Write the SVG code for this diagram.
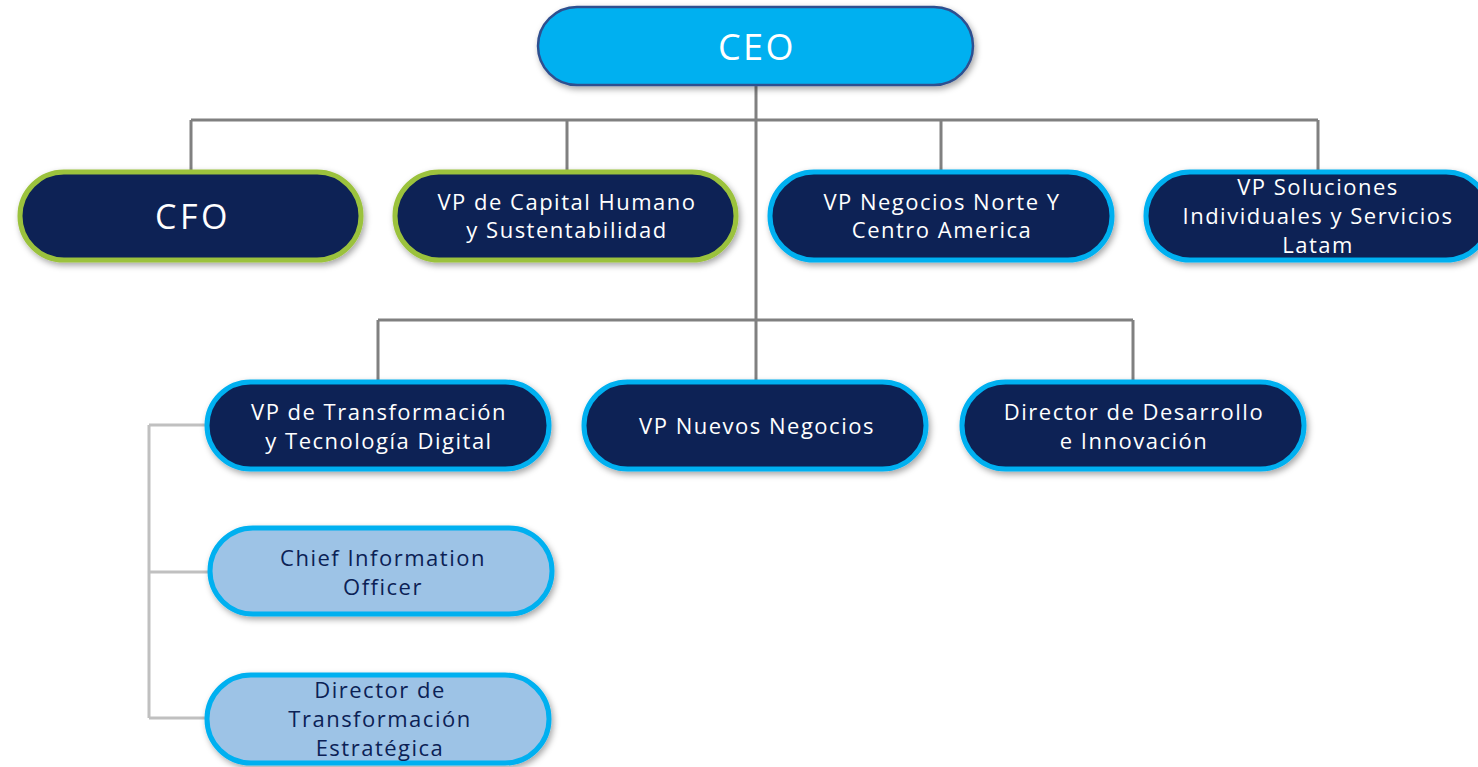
<svg xmlns="http://www.w3.org/2000/svg" width="1478" height="767" viewBox="0 0 1478 767">
<defs>
<filter id="sh" x="-10%" y="-20%" width="120%" height="150%">
<feDropShadow dx="2" dy="3" stdDeviation="3" flood-color="#000" flood-opacity="0.35"/>
</filter>
</defs>
<style>
.dark{fill:#0b2155;filter:url(#sh)}
.g{stroke:#9bc23c;stroke-width:5}
.c{stroke:#00b0f0;stroke-width:5}
.light{fill:#9dc3e6;stroke:#00b0f0;stroke-width:5;filter:url(#sh)}
.tw{fill:#fff;font-family:"Open Sans","Noto Sans",sans-serif;font-size:22px;text-anchor:middle;letter-spacing:1.5px}
.td{fill:#0b2155;font-family:"Open Sans","Noto Sans",sans-serif;font-size:22px;text-anchor:middle;letter-spacing:1.5px}
.con{stroke:#808080;stroke-width:3;fill:none}
.con2{stroke:#c0c0c0;stroke-width:3;fill:none}
</style>
<g id="connectors">
<path class="con" d="M756 85V380M191 120H1318M191 120V172M567 120V172M941 120V172M1318 120V172M378 320H1133M378 320V382M1133 320V382"/>
<path class="con2" d="M149 425V718M149 425H207M149 572H210M149 718H207"/>
</g>
<g id="ceo">
<rect x="538" y="7" width="435" height="78" rx="39" fill="#00b0f0" stroke="#2f4f8f" stroke-width="2.5" filter="url(#sh)"/>
<text x="757" y="60" class="tw" style="font-size:36px;letter-spacing:2.5px">CEO</text>
</g>
<g id="cfo">
<rect class="dark g" x="20" y="172" width="341" height="88" rx="44"/>
<text x="193" y="229" class="tw" style="font-size:34px;letter-spacing:3.5px">CFO</text>
</g>
<g id="vp-capital-humano">
<rect class="dark g" x="395" y="172" width="341" height="88" rx="44"/>
<text x="567" y="210" class="tw">VP de Capital Humano</text>
<text x="567" y="238" class="tw">y Sustentabilidad</text>
</g>
<g id="vp-negocios-norte">
<rect class="dark c" x="770" y="172" width="342" height="88" rx="44"/>
<text x="942" y="210" class="tw">VP Negocios Norte Y</text>
<text x="942" y="238" class="tw">Centro America</text>
</g>
<g id="vp-soluciones">
<rect class="dark c" x="1146" y="172" width="344" height="88" rx="44"/>
<text x="1318" y="195" class="tw">VP Soluciones</text>
<text x="1318" y="224" class="tw">Individuales y Servicios</text>
<text x="1318" y="253" class="tw">Latam</text>
</g>
<g id="vp-transformacion">
<rect class="dark c" x="207" y="382" width="342" height="87" rx="43.5"/>
<text x="379" y="420" class="tw">VP de Transformación</text>
<text x="379" y="449" class="tw">y Tecnología Digital</text>
</g>
<g id="vp-nuevos-negocios">
<rect class="dark c" x="584" y="382" width="342" height="87" rx="43.5"/>
<text x="757" y="434" class="tw">VP Nuevos Negocios</text>
</g>
<g id="director-desarrollo">
<rect class="dark c" x="962" y="382" width="342" height="87" rx="43.5"/>
<text x="1134" y="420" class="tw">Director de Desarrollo</text>
<text x="1134" y="449" class="tw">e Innovación</text>
</g>
<g id="cio">
<rect class="light" x="210" y="528" width="342" height="86" rx="43"/>
<text x="383" y="566" class="td">Chief Information</text>
<text x="383" y="595" class="td">Officer</text>
</g>
<g id="director-transformacion">
<rect class="light" x="207" y="675" width="342" height="88" rx="44"/>
<text x="380" y="698" class="td">Director de</text>
<text x="380" y="727" class="td">Transformación</text>
<text x="380" y="756" class="td">Estratégica</text>
</g>
</svg>
